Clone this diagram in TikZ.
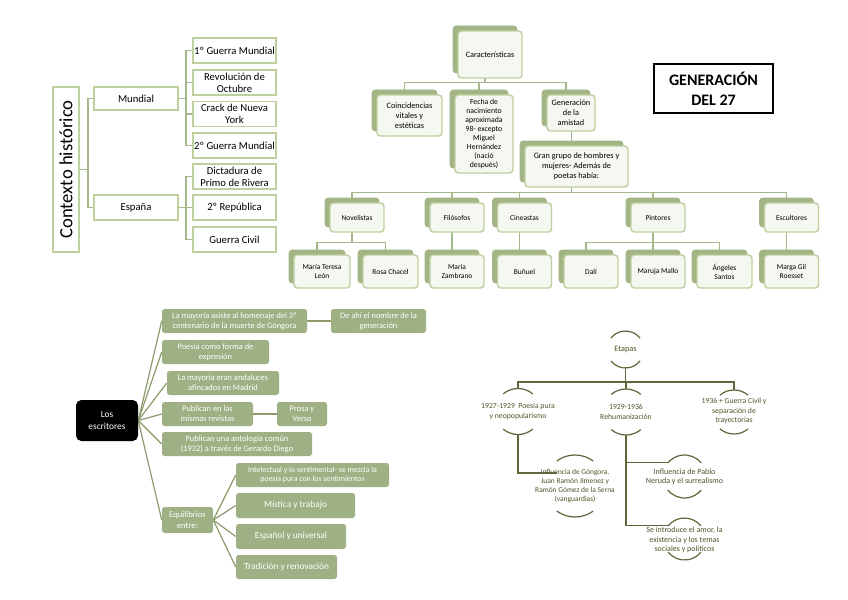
\documentclass[tikz,border=0pt]{standalone}
\usepackage{fontspec}
\usepackage{graphicx}
\setmainfont{Carlito}
\usetikzlibrary{backgrounds,calc}
\definecolor{lg}{RGB}{191,208,160}
\definecolor{og}{RGB}{163,181,132}
\definecolor{ff}{RGB}{245,247,241}
\definecolor{bf}{RGB}{158,176,132}
\definecolor{cl}{RGB}{165,184,140}
\definecolor{bl}{RGB}{140,155,108}
\definecolor{dk}{RGB}{92,104,58}
\definecolor{dt}{RGB}{74,86,40}
\newcommand\stk[6]{%
  \node[backbox,sz={#4}{#5}] (#1b) at ({#2-5},{-#3+5}) {};
  \node[frontbox,sz={#4}{#5}] (#1) at (#2,-#3) {#6};}
\newcommand\arcpair[4]{%
  \draw[arcl] ($(#1.center)+(#3:#2)$) arc[start angle=#3,end angle=#4,radius=#2];
  \draw[arcl] ($(#1.center)+(180+#3:#2)$) arc[start angle=180+#3,end angle=180+#4,radius=#2];}
\tikzset{
  sz/.style 2 args={minimum width=#1*0.75pt,minimum height=#2*0.75pt},
  fs/.style 2 args={font=\fontsize{#1}{#2}\selectfont},
  tlbox/.style={draw=lg,line width=1.4pt,fill=white,align=center,inner sep=1pt,fs={8}{9}},
  tlline/.style={draw=cl,line width=1.1pt},
  backbox/.style={fill=og,draw=og,rounded corners=2.5pt,line width=0.6pt},
  frontbox/.style={fill=ff,draw=lg,line width=1.1pt,rounded corners=2.5pt,align=center,inner sep=1pt,fs={6.2}{7.4}},
  rowtxt/.style={fs={5.6}{6.8}},
  tmline/.style={draw=cl,line width=1.1pt},
  bfbox/.style={fill=bf,draw=none,rounded corners=2pt,text=white,align=center,inner sep=1pt,fs={6.3}{7.6}},
  blline/.style={draw=bl,line width=0.9pt},
  etext/.style={text=dt,align=center,inner sep=0pt,fs={5.8}{7}},
  circ/.style={circle,inner sep=0pt,draw=none,minimum size=#1*1.5pt},
  arcl/.style={draw=dk,line width=0.9pt},
  brline/.style={draw=dk,line width=0.9pt},
}
\begin{document}
\begin{tikzpicture}[x=0.75pt,y=0.75pt]
\useasboundingbox (0,0) rectangle (848,-599);

% ---------- Contexto historico ----------
\node[tlbox,sz={26}{165}] (ctx) at (66,-169.5) {\fontsize{14}{16}\selectfont\rotatebox{90}{Contexto histórico}};
\node[tlbox,sz={84}{23}] (mund) at (136,-98.5) {Mundial};
\node[tlbox,sz={84}{25}] (esp) at (136,-207.5) {España};
\node[tlbox,sz={83}{25}] (w1) at (234.5,-50.5) {1º Guerra Mundial};
\node[tlbox,sz={83}{25}] (w2) at (234.5,-82.5) {Revolución de\\Octubre};
\node[tlbox,sz={83}{25}] (w3) at (234.5,-114) {Crack de Nueva\\York};
\node[tlbox,sz={83}{25}] (w4) at (234.5,-145.5) {2º Guerra Mundial};
\node[tlbox,sz={83}{25}] (s1) at (234.5,-176.5) {Dictadura de\\Primo de Rivera};
\node[tlbox,sz={83}{25}] (s2) at (234.5,-207.5) {2º República};
\node[tlbox,sz={83}{25}] (s3) at (234.5,-239.5) {Guerra Civil};

% ---------- Caracteristicas ----------
\stk{car}{490}{54.5}{64}{47}{Características}
\stk{coin}{409.5}{115.5}{65}{41}{Coincidencias\\vitales y\\estéticas}
\node[backbox,sz={58}{78}] (fechab) at (479,-129) {};
\node[frontbox,sz={58}{78},fs={5.8}{6.8}] (fecha) at (484,-134) {Fecha de\\nacimiento\\aproximada\\98- excepto\\Miguel\\Hernández\\(nació\\después)};
\stk{gen}{571}{113}{48}{36}{Generación\\de la\\amistad}
\stk{gran}{576.5}{166.5}{103}{41}{Gran grupo de hombres y\\mujeres- Además de\\poetas había:}

\tikzset{frontbox/.append style={rowtxt}}
\stk{nov}{357}{217.5}{54}{29}{Novelistas}
\stk{fil}{457}{217.5}{54}{29}{Filósofos}
\stk{cin}{524.5}{217.5}{54}{29}{Cineastas}
\stk{pin}{658}{217.5}{54}{29}{Pintores}
\stk{escu}{791.5}{217.5}{54}{29}{Escultores}

\stk{mtl}{322}{271.5}{56}{33}{María Teresa\\León}
\stk{ros}{390.5}{271.5}{55}{33}{Rosa Chacel}
\stk{zam}{457}{271.5}{54}{33}{María\\Zambrano}
\stk{bun}{524.5}{271.5}{54}{33}{Buñuel}
\stk{dal}{591}{271.5}{54}{33}{Dalí}
\stk{mar}{658}{271.5}{54}{33}{Maruja Mallo}
\stk{ang}{724.5}{271.5}{55}{33}{Ángeles\\Santos}
\stk{mgr}{791.5}{271.5}{54}{33}{Marga Gil\\Roesset}

% ---------- Titulo ----------
\node[draw=black,line width=0.8pt,sz={119}{49},align=center,font=\bfseries\fontsize{12}{15}\selectfont] (gen27) at (713.5,-88.5) {GENERACIÓN\\DEL 27};

% ---------- Los escritores ----------
\node[fill=black,rounded corners=4pt,text=white,align=center,sz={62}{41},inner sep=1pt,fs={7}{9}] (esc) at (107,-420.5) {Los\\escritores};
\node[bfbox,sz={145}{24}] (b1) at (234.5,-321) {La mayoría asiste al homenaje del 3º\\centenario de la muerte de Góngora};
\node[bfbox,sz={95}{24}] (dea) at (378.5,-321) {De ahí el nombre de la\\generación};
\node[bfbox,sz={107}{24}] (b2) at (215.5,-352) {Poesía como forma de\\expresión};
\node[bfbox,sz={112}{24}] (b3) at (223,-383) {La mayoría eran andaluces\\afincados en Madrid};
\node[bfbox,sz={91}{24}] (b4) at (207.5,-414) {Publican en las\\mismas revistas};
\node[bfbox,sz={50}{24}] (pro) at (302,-414) {Prosa y\\Verso};
\node[bfbox,sz={150}{24}] (b5) at (237,-444) {Publican una antología común\\(1932) a través de Gerardo Diego};
\node[bfbox,sz={51}{26},fs={6.5}{8}] (equi) at (187.5,-520) {Equilibrios\\entre:};
\node[bfbox,sz={153}{24},fs={5.9}{7.2}] (e1) at (312.5,-475) {Intelectual y lo sentimental- se mezcla la\\poesía pura con los sentimientos};
\node[bfbox,sz={119}{25},fs={7}{8}] (e2) at (295.5,-505.5) {Mística y trabajo};
\node[bfbox,sz={110}{25},fs={7}{8}] (e3) at (291,-536.5) {Español y universal};
\node[bfbox,sz={101}{24},fs={7}{8}] (e4) at (286.5,-567) {Tradición y renovación};

% ---------- Etapas ----------
\node[circ=18.5] (etc) at (625.5,-349.5) {};
\node[etext,fs={6.2}{7}] (et) at (625.5,-349.5) {Etapas};
\node[circ=23] (p1c) at (518,-411.5) {};
\node[etext] (p1) at (518,-411.5) {1927-1929\ \ Poesía pura\\y neopopularismo};
\node[circ=23] (p2c) at (626,-412) {};
\node[etext] (p2) at (626,-412) {1929-1936\\Rehumanización};
\node[circ=22] (p3c) at (734,-412) {};
\node[etext] (p3) at (734,-411) {1936 + Guerra Civil y\\separación de\\trayectorias};
\node[circ=31] (g1c) at (575,-486) {};
\node[etext,fs={5.6}{6.6}] (g1) at (575,-486) {Influencia de Góngora,\\Juan Ramón Jimenez y\\Ramón Gómez de la Serna\\(vanguardias)};
\node[circ=21.5] (g2c) at (684.5,-476.5) {};
\node[etext,fs={6}{7.2}] (g2) at (684.5,-477) {Influencia de Pablo\\Neruda y el surrealismo};
\node[circ=21] (g3c) at (684.5,-539) {};
\node[etext,fs={6}{7.2}] (g3) at (684.5,-540) {Se introduce el amor, la\\existencia y los temas\\sociales y políticos};
\coordinate (g1in) at (557,-473);
\coordinate (ebus) at (625.5,-382);

\arcpair{etc}{18.5}{38}{142}
\arcpair{p1c}{23}{50}{130}
\arcpair{p2c}{23}{50}{130}
\arcpair{p3c}{22}{50}{130}
\arcpair{g1c}{31}{54}{126}
\arcpair{g2c}{21.5}{39}{141}
\arcpair{g3c}{21}{39}{141}

\draw[brline] (etc.south) -- (ebus);
\draw[brline] (ebus) -| (p1c.north);
\draw[brline] (ebus) -| (p2c.north);
\draw[brline] (ebus) -| (p3c.north);
\draw[brline] (p1c.south) |- (g1in);
\draw[brline] (p2c.south) |- (g2c.141);
\draw[brline] (p2c.south) |- (g3c.141);

% ---------- connectors under the boxes ----------
\begin{pgfonlayer}{background}
\fill[white] (0,0) rectangle (848,-599);
\draw[tlline] (ctx.east) -- ++(8,0) |- (mund.west);
\draw[tlline] (ctx.east) -- ++(8,0) |- (esp.west);
\foreach \q in {w1,w2,w3,w4} \draw[tlline] (mund.east) -- ++(7,0) |- (\q.west);
\foreach \q in {s1,s2,s3} \draw[tlline] (esp.east) -- ++(7,0) |- (\q.west);

\foreach \q in {coin,fecha,gen} \draw[tmline] (\q b.north) -- ++(0,7) -| (carb.south);
\draw[tmline] (granb.north) -- (granb.north |- genb.south);
\foreach \q in {nov,fil,cin,pin,escu} \draw[tmline] (\q b.north) -- ++(0,5) -| (granb.south);
\foreach \q in {mtl,ros} \draw[tmline] (\q b.north) -- ++(0,7) -| (novb.south);
\draw[tmline] (zamb.north) -- (filb.south);
\draw[tmline] (bunb.north) -- (cinb.south);
\foreach \q in {dal,mar,ang} \draw[tmline] (\q b.north) -- ++(0,7) -| (pinb.south);
\draw[tmline] (mgrb.north) -- (escub.south);

\foreach \q in {b1,b2,b3,b4,b5,equi} \draw[blline] (esc.east) -- (\q.west);
\draw[blline] (b1.east) -- (dea.west);
\draw[blline] (b4.east) -- (pro.west);
\foreach \q in {e1,e2,e3,e4} \draw[blline] (equi.east) -- (\q.west);
\end{pgfonlayer}
\end{tikzpicture}
\end{document}
